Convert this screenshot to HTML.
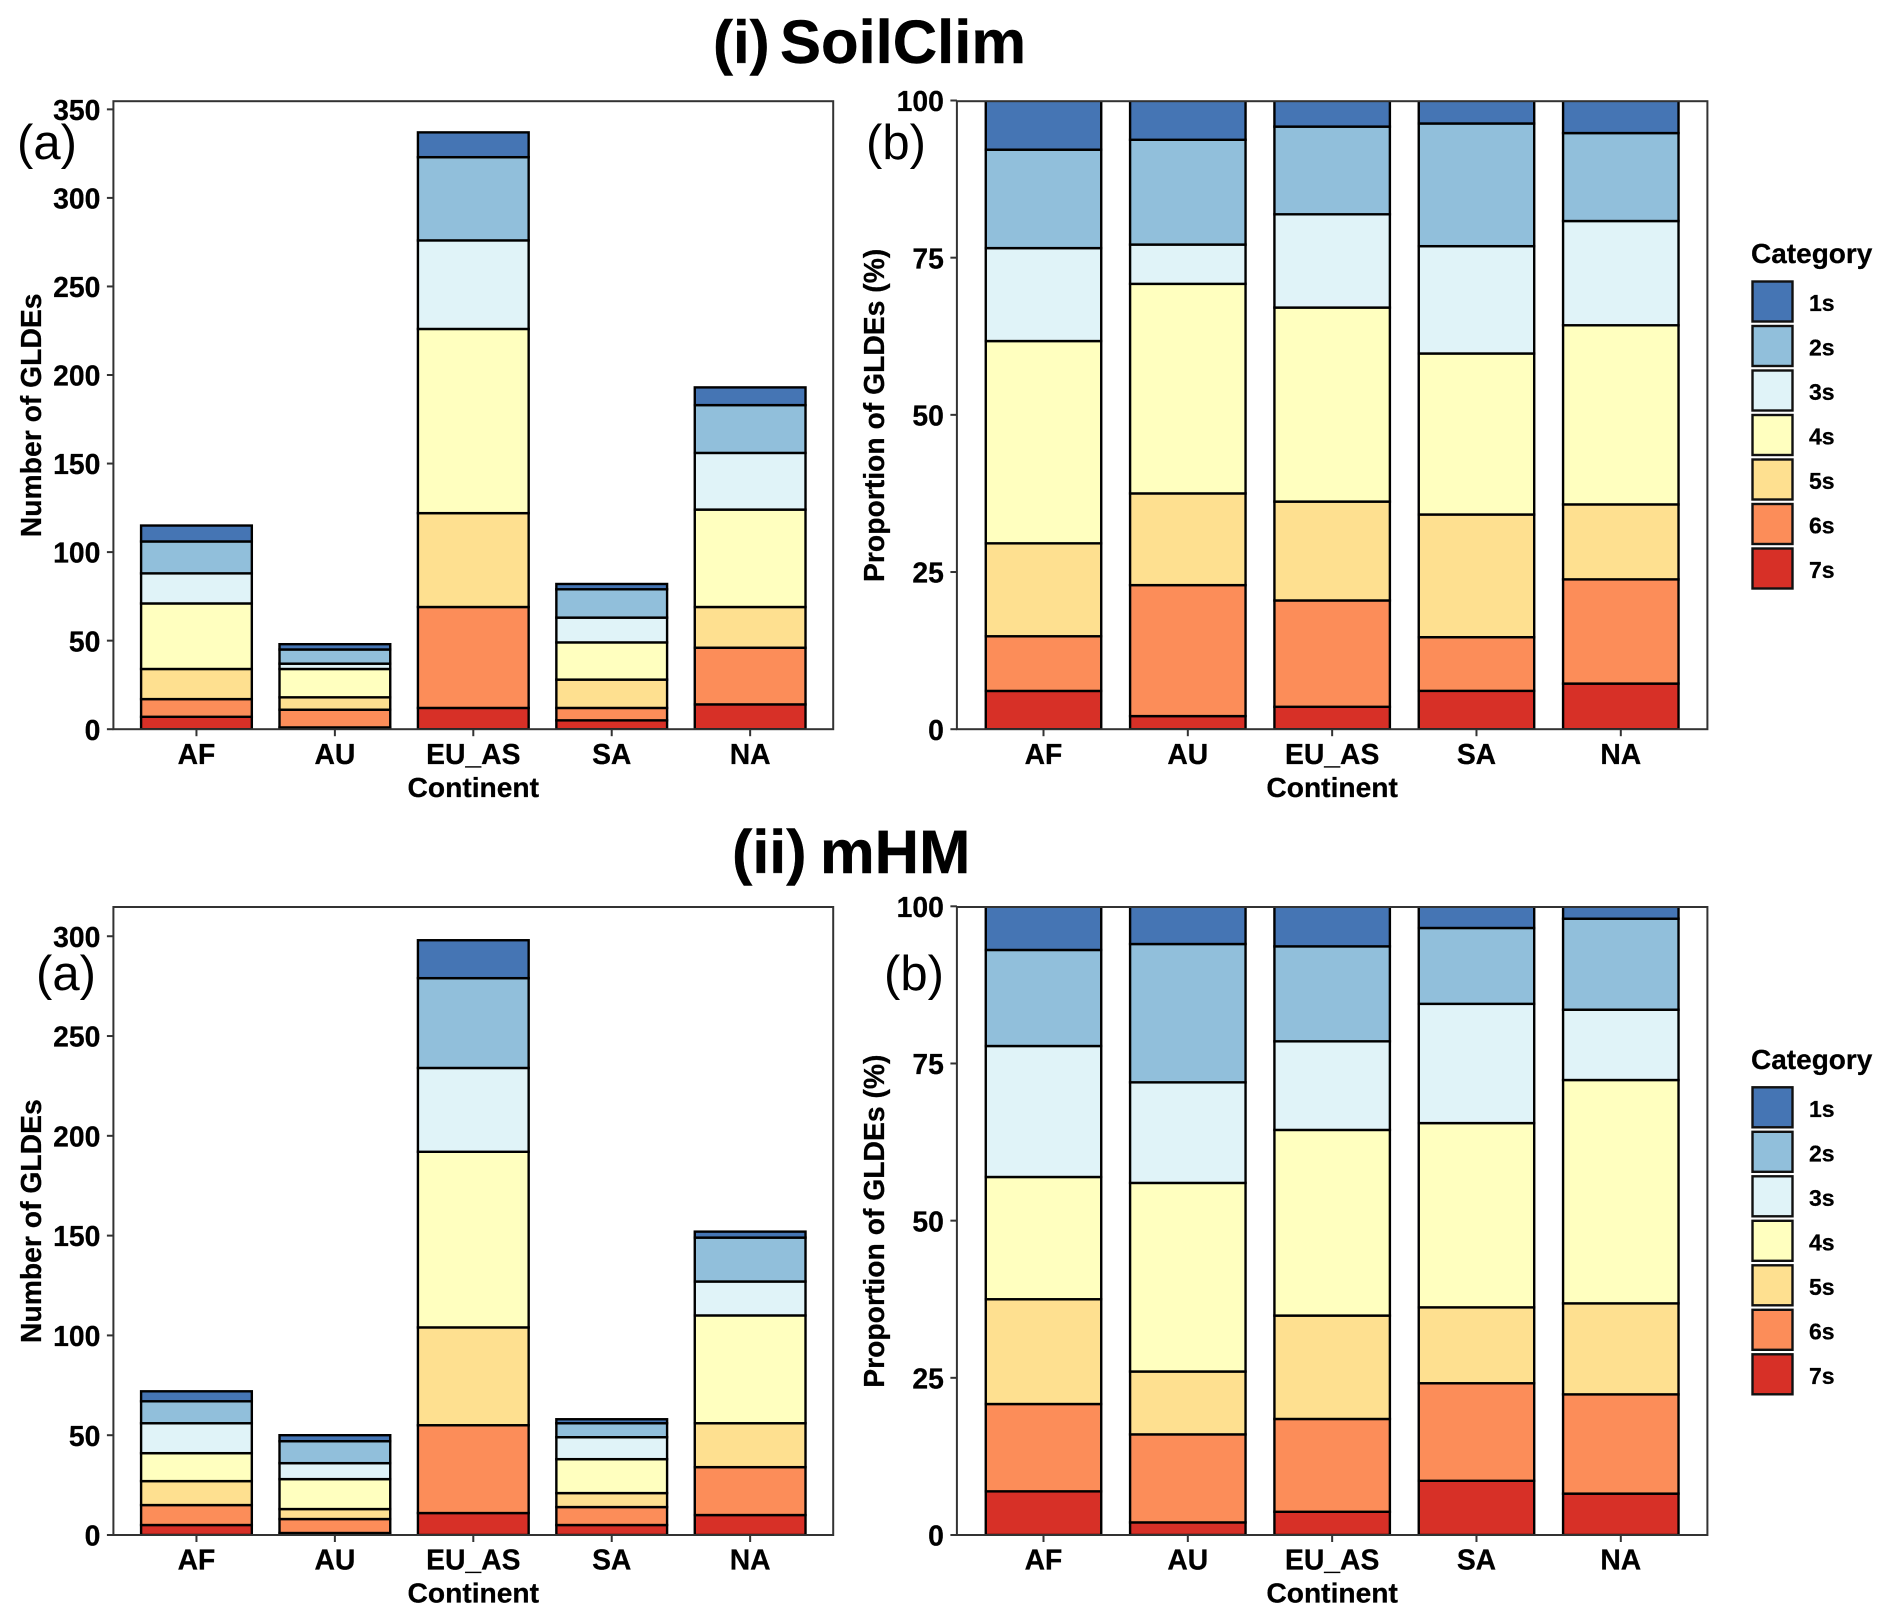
<!DOCTYPE html>
<html lang="en">
<head>
<meta charset="utf-8">
<title>GLDE counts and proportions by continent</title>
<style>
html,body{margin:0;padding:0;background:#fff;}
svg{display:block;font-family:"Liberation Sans",Arial,sans-serif;}
</style>
</head>
<body>
<svg id="figure" xmlns="http://www.w3.org/2000/svg" width="1892" height="1622" viewBox="0 0 1892 1622">
  <rect x="0" y="0" width="1892" height="1622" fill="#ffffff"/>
  <text x="713" y="63" font-size="60" font-weight="700" stroke="#000" stroke-width="0.4">(i)</text>
  <text x="780" y="63" font-size="61.5" font-weight="700" stroke="#000" stroke-width="0.4">SoilClim</text>
  <text x="732" y="873" font-size="61" font-weight="700" stroke="#000" stroke-width="0.4">(ii)</text>
  <text x="820" y="873" font-size="61.5" font-weight="700" stroke="#000" stroke-width="0.4">mHM</text>
  <g id="charts"></g>
  <text x="17" y="159" font-size="49">(a)</text>
  <text x="866" y="159" font-size="49">(b)</text>
  <text x="36" y="990" font-size="49">(a)</text>
  <text x="884" y="990" font-size="49">(b)</text>
</svg>
<script>
// ---- chart data ----
const continents = ['AF', 'AU', 'EU_AS', 'SA', 'NA'];
const categories = ['1s', '2s', '3s', '4s', '5s', '6s', '7s'];
const categoryColors = ['#4575b4', '#91bfdb', '#e0f3f8', '#ffffbf', '#fee090', '#fc8d59', '#d73027'];

const soilClim1s = [9, 3, 14, 3, 10];
const soilClim2s = [18, 8, 47, 16, 27];
const soilClim3s = [17, 3, 50, 14, 32];
const soilClim4s = [37, 16, 104, 21, 55];
const soilClim5s = [17, 7, 53, 16, 23];
const soilClim6s = [10, 10, 57, 7, 32];
const soilClim7s = [7, 1, 12, 5, 14];

const mhm1s = [5, 3, 19, 2, 3];
const mhm2s = [11, 11, 45, 7, 22];
const mhm3s = [15, 8, 42, 11, 17];
const mhm4s = [14, 15, 88, 17, 54];
const mhm5s = [12, 5, 49, 7, 22];
const mhm6s = [10, 7, 44, 9, 24];
const mhm7s = [5, 1, 11, 5, 10];

const soilClimCountTicks = [0, 50, 100, 150, 200, 250, 300, 350];
const mhmCountTicks = [0, 50, 100, 150, 200, 250, 300];
const proportionTicks = [0, 25, 50, 75, 100];

const soilClimCountMax = 355;
const mhmCountMax = 315;
const proportionMax = 100;

// ---- drawing helpers ----
const NS = 'http://www.w3.org/2000/svg';
const root = document.getElementById('charts');

function addRect(parent, x, y, w, h, fill, stroke, sw, name) {
  const el = document.createElementNS(NS, 'rect');
  
  
  el.setAttribute('x', x);
  el.setAttribute('y', y);
  el.setAttribute('width', w);
  el.setAttribute('height', h);
  el.setAttribute('fill', fill);
  el.setAttribute('stroke', stroke);
  el.setAttribute('stroke-width', sw);
  parent.appendChild(el);
  return el;
}

function addLine(parent, x1, y1, x2, y2, name) {
  const el = document.createElementNS(NS, 'line');
  
  
  el.setAttribute('x1', x1);
  el.setAttribute('y1', y1);
  el.setAttribute('x2', x2);
  el.setAttribute('y2', y2);
  el.setAttribute('stroke', '#333333');
  el.setAttribute('stroke-width', 2);
  parent.appendChild(el);
  return el;
}

function addText(parent, x, y, str, size, anchor, name, rotate) {
  const el = document.createElementNS(NS, 'text');
  
  
  el.setAttribute('x', x);
  el.setAttribute('y', y);
  el.setAttribute('font-size', size);
  el.setAttribute('font-weight', '700');
  el.setAttribute('text-anchor', anchor);
  el.setAttribute('fill', '#000000');
  el.setAttribute('stroke', '#000000');
  el.setAttribute('stroke-width', '0.25');
  if (rotate) el.setAttribute('transform', 'rotate(-90 ' + x + ' ' + y + ')');
  el.textContent = str;
  parent.appendChild(el);
  return el;
}

function addGroup(parent, name) {
  const el = document.createElementNS(NS, 'g');
  
  
  parent.appendChild(el);
  return el;
}

function addClip(parent, id, x, y, w, h) {
  const clip = document.createElementNS(NS, 'clipPath');
  clip.setAttribute('id', id);
  const shape = document.createElementNS(NS, 'rect');
  shape.setAttribute('x', x);
  shape.setAttribute('y', y);
  shape.setAttribute('width', w);
  shape.setAttribute('height', h);
  clip.appendChild(shape);
  parent.appendChild(clip);
}

// series: ordered from top of stack (1s) to bottom of stack (7s)
function drawPanel(opts) {
  const g = addGroup(root, opts.name);
  const L = opts.left, R = opts.right, T = opts.top, B = opts.bottom;
  const step = (R - L) / (continents.length + 0.2);
  const barW = step * 0.8;
  const xCenter = i => L + step * (i + 0.6);
  const yPos = v => B - (v / opts.yMax) * (B - T);

  addClip(g, opts.name + '-clip', L, T + 0.7, R - L, B - T - 0.7);
  const bars = addGroup(g, 'stacked-bars');
  bars.setAttribute('clip-path', 'url(#' + opts.name + '-clip)');

  continents.forEach((c, i) => {
    const total = opts.series.reduce((s, arr) => s + arr[i], 0);
    let cum = 0;
    for (let k = categories.length - 1; k >= 0; k--) {
      const raw = opts.series[k][i];
      const lo = opts.proportional ? cum / total * 100 : cum;
      cum += raw;
      const hi = opts.proportional ? cum / total * 100 : cum;
      addRect(bars, xCenter(i) - barW / 2, yPos(hi), barW, yPos(lo) - yPos(hi),
        categoryColors[k], '#000000', 2.4, 'bar-' + c.toLowerCase() + '-' + categories[k]);
    }
  });

  addRect(g, L, T + 0.7, R - L, B - T - 0.7, 'none', '#333333', 2, 'panel-border');

  opts.ticks.forEach(t => {
    addLine(g, L - 6.5, yPos(t), L, yPos(t), 'y-tick');
    addText(g, L - 13, yPos(t) + 10.6, String(t), 28.3, 'end', 'y-tick-label');
  });
  continents.forEach((c, i) => {
    addLine(g, xCenter(i), B, xCenter(i), B + 7, 'x-tick');
    addText(g, xCenter(i), B + 34.6, c, 28.3, 'middle', 'x-tick-label');
  });
  addText(g, (L + R) / 2, B + 67.6, 'Continent', 28.2, 'middle', 'x-axis-title');
  addText(g, opts.titleX, (T + B) / 2 + 0.5, opts.yTitle, 28.3, 'middle', 'y-axis-title', true);
}

function drawLegend(name, top) {
  const g = addGroup(root, name);
  addText(g, 1751, top + 162, 'Category', 28, 'start', 'legend-title');
  categories.forEach((c, i) => {
    const y = top + 180.5 + i * 44.5;
    addRect(g, 1752.5, y, 40, 40, categoryColors[i], '#111111', 2.4, 'legend-key-' + c);
    addText(g, 1809, y + 29.5, c, 23, 'start', 'legend-label-' + c);
  });
}

const soilClimSeries = [soilClim1s, soilClim2s, soilClim3s, soilClim4s, soilClim5s, soilClim6s, soilClim7s];
const mhmSeries = [mhm1s, mhm2s, mhm3s, mhm4s, mhm5s, mhm6s, mhm7s];

const rows = [
  { key: 'soilclim', top: 100.5, bottom: 729.2, legendTop: 101, series: soilClimSeries, ticks: soilClimCountTicks, yMax: soilClimCountMax },
  { key: 'mhm', top: 906.3, bottom: 1535, legendTop: 906.8, series: mhmSeries, ticks: mhmCountTicks, yMax: mhmCountMax }
];

rows.forEach(r => {
  drawPanel({
    name: r.key + '-count-chart', left: 113.4, right: 833.2, top: r.top, bottom: r.bottom,
    series: r.series, ticks: r.ticks, yMax: r.yMax, proportional: false,
    yTitle: 'Number of GLDEs', titleX: 41
  });
  drawPanel({
    name: r.key + '-proportion-chart', left: 956.9, right: 1707.4, top: r.top, bottom: r.bottom,
    series: r.series, ticks: proportionTicks, yMax: proportionMax, proportional: true,
    yTitle: 'Proportion of GLDEs (%)', titleX: 884
  });
  drawLegend(r.key + '-legend', r.legendTop);
});
</script>
</body>
</html>
